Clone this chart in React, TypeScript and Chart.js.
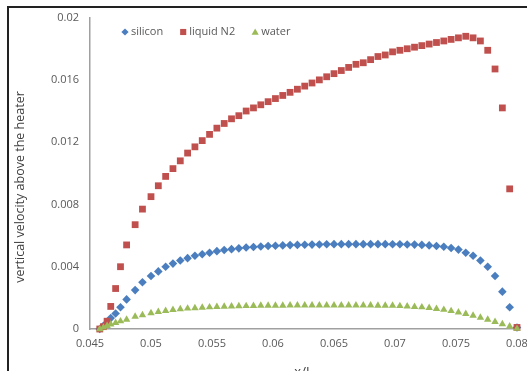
import React, { useEffect, useRef } from 'react';
import { Chart, registerables } from 'chart.js';

Chart.register(...registerables);

// ---- data ----
const xPositions = [
  0.0458, 0.0461, 0.0464, 0.0467, 0.0471, 0.0475, 0.0480, 0.0487, 0.0493,
  0.0500, 0.0506, 0.0512, 0.0518, 0.0524, 0.0530, 0.0536, 0.0542, 0.0548, 0.0554,
  0.0560, 0.0566, 0.0572, 0.0578, 0.0584, 0.0590, 0.0596, 0.0602, 0.0608, 0.0614,
  0.0620, 0.0626, 0.0632, 0.0638, 0.0644, 0.0650, 0.0656, 0.0662, 0.0668, 0.0674,
  0.0680, 0.0686, 0.0692, 0.0698, 0.0704, 0.0710, 0.0716, 0.0722, 0.0728, 0.0734,
  0.0740, 0.0746, 0.0752, 0.0758, 0.0764, 0.0770, 0.0776, 0.0782, 0.0788, 0.0794,
  0.0800,
];

const siliconValues = [
  0, 0.0002, 0.0004, 0.0007, 0.0010, 0.0014, 0.0019, 0.0025, 0.0030,
  0.0034, 0.0037, 0.0040, 0.0042, 0.0044, 0.00455, 0.0047, 0.0048, 0.0049, 0.0050,
  0.00507, 0.00513, 0.00518, 0.00523, 0.00527, 0.0053, 0.00533, 0.00535, 0.00537, 0.00539,
  0.0054, 0.00541, 0.00542, 0.00543, 0.00544, 0.00545, 0.00545, 0.00545, 0.00545, 0.00545,
  0.00545, 0.00545, 0.00545, 0.00544, 0.00544, 0.00543, 0.00542, 0.0054, 0.00537, 0.00533,
  0.00528, 0.0052, 0.0051, 0.0049, 0.0047, 0.0044, 0.0040, 0.0034, 0.0024, 0.0014,
  0.0001,
];

const liquidN2Values = [
  0, 0.00015, 0.0005, 0.00145, 0.0026, 0.0040, 0.0054, 0.0067, 0.0077,
  0.0085, 0.0092, 0.0098, 0.0103, 0.0108, 0.0113, 0.0117, 0.0121, 0.0125, 0.0129,
  0.0132, 0.0135, 0.0137, 0.0140, 0.0142, 0.0144, 0.0146, 0.0148, 0.0150, 0.0152,
  0.0154, 0.0156, 0.0158, 0.0160, 0.0162, 0.0164, 0.0166, 0.0168, 0.0170, 0.0171,
  0.0173, 0.0175, 0.0176, 0.0178, 0.0179, 0.0180, 0.0181, 0.0182, 0.0183, 0.0184,
  0.0185, 0.0186, 0.0187, 0.0188, 0.0187, 0.0185, 0.0179, 0.0167, 0.0142, 0.0090,
  0.0001,
];

const waterValues = [
  0, 0.0001, 0.0002, 0.0003, 0.0004, 0.0005, 0.0006, 0.0008, 0.0009,
  0.00102, 0.0011, 0.00117, 0.00123, 0.00128, 0.00132, 0.00135, 0.00138, 0.0014, 0.00142,
  0.00144, 0.00146, 0.00147, 0.00148, 0.00149, 0.0015, 0.0015, 0.00151, 0.00151, 0.00152,
  0.00152, 0.00152, 0.00152, 0.00152, 0.00152, 0.00152, 0.00152, 0.00152, 0.00152, 0.00152,
  0.00152, 0.00151, 0.00151, 0.0015, 0.00148, 0.00146, 0.00143, 0.0014, 0.00136, 0.0013,
  0.00124, 0.00116, 0.00107, 0.00097, 0.00086, 0.00074, 0.0006, 0.00046, 0.00032, 0.00017,
  0.00002,
];

const seriesNames = ['silicon', 'liquid N2', 'water'];

const xTickValues = [0.045, 0.05, 0.055, 0.06, 0.065, 0.07, 0.075, 0.08];
const xTickLabels = ['0.045', '0.05', '0.055', '0.06', '0.065', '0.07', '0.075', '0.08'];
const yTickValues = [0, 0.004, 0.008, 0.012, 0.016, 0.02];
const yTickLabels = ['0', '0.004', '0.008', '0.012', '0.016', '0.02'];

const xAxisTitle = 'x/L';
const yAxisTitle = 'vertical velocity above the heater';

// ---- styling ----
const FONT = "'Open Sans', 'Liberation Sans', sans-serif";
const BLUE = '#4A7EBF';
const RED = '#C0504D';
const GREEN = '#9BBB59';
const TICK_COLOR = '#595959';
const TITLE_COLOR = '#404040';
const AXIS_COLOR = '#a0a0a0';

const CANVAS_W = 600;
const CANVAS_H = 420;
const AREA = { left: 90, top: 17, right: 517, bottom: 329 };
const X_SCALE_H = 60;

function toPoints(values: number[]) {
  return values.map((v, i) => ({ x: xPositions[i], y: v }));
}

function drawMarker(ctx: CanvasRenderingContext2D, style: string, cx: number, cy: number, r: number) {
  ctx.beginPath();
  if (style === 'rectRot') {
    ctx.moveTo(cx, cy - r);
    ctx.lineTo(cx + r, cy);
    ctx.lineTo(cx, cy + r);
    ctx.lineTo(cx - r, cy);
  } else if (style === 'rect') {
    const s = r * 0.85;
    ctx.rect(cx - s, cy - s, 2 * s, 2 * s);
  } else {
    ctx.moveTo(cx, cy - r);
    ctx.lineTo(cx + r, cy + r * 0.75);
    ctx.lineTo(cx - r, cy + r * 0.75);
  }
  ctx.closePath();
  ctx.fill();
}

const legendPlugin = {
  id: 'insideLegend',
  afterDraw(chart: any) {
    const ctx: CanvasRenderingContext2D = chart.ctx;
    ctx.save();
    ctx.font = `11px ${FONT}`;
    ctx.textAlign = 'left';
    ctx.textBaseline = 'middle';
    let x = 121;
    const y = 32;
    chart.data.datasets.forEach((ds: any) => {
      ctx.fillStyle = ds.backgroundColor;
      drawMarker(ctx, ds.pointStyle, x + 4, y, 3.6);
      ctx.fillStyle = TICK_COLOR;
      ctx.fillText(ds.label, x + 10, y);
      x = x + 10 + ctx.measureText(ds.label).width + 16;
    });
    ctx.restore();
  },
};

const yTitlePlugin = {
  id: 'yTitleCustom',
  afterDraw(chart: any) {
    const ctx: CanvasRenderingContext2D = chart.ctx;
    ctx.save();
    ctx.translate(20, 187);
    ctx.rotate(-Math.PI / 2);
    ctx.font = `12.5px ${FONT}`;
    ctx.fillStyle = TITLE_COLOR;
    ctx.textAlign = 'center';
    ctx.textBaseline = 'middle';
    ctx.fillText(yAxisTitle, 0, 0);
    ctx.restore();
  },
};

export default function App() {
  const canvasRef = useRef<HTMLCanvasElement | null>(null);

  useEffect(() => {
    if (!canvasRef.current) return;
    const chart = new Chart(canvasRef.current, {
      type: 'scatter',
      data: {
        datasets: [
          {
            label: seriesNames[0],
            data: toPoints(siliconValues),
            backgroundColor: BLUE,
            borderColor: BLUE,
            borderWidth: 0,
            pointStyle: 'rectRot',
            pointRadius: 4.3,
            order: 2,
            clip: false,
          },
          {
            label: seriesNames[1],
            data: toPoints(liquidN2Values),
            backgroundColor: RED,
            borderColor: RED,
            borderWidth: 0,
            pointStyle: 'rect',
            pointRadius: 4.8,
            order: 1,
            clip: false,
          },
          {
            label: seriesNames[2],
            data: toPoints(waterValues),
            backgroundColor: GREEN,
            borderColor: GREEN,
            borderWidth: 0,
            pointStyle: 'triangle',
            pointRadius: 4.3,
            order: 0,
            clip: false,
          },
        ] as any,
      },
      options: {
        responsive: false,
        animation: false,
        devicePixelRatio: 1,
        layout: {
          padding: {
            left: 0,
            top: AREA.top,
            right: CANVAS_W - AREA.right,
            bottom: CANVAS_H - AREA.bottom - X_SCALE_H,
          },
        },
        plugins: {
          legend: { display: false },
          tooltip: { enabled: false },
        },
        scales: {
          x: {
            type: 'linear',
            min: 0.045,
            max: 0.08,
            afterBuildTicks: (s: any) => {
              s.ticks = xTickValues.map((v) => ({ value: v }));
            },
            afterFit: (s: any) => {
              s.height = X_SCALE_H;
            },
            ticks: {
              callback: (_v: any, i: number) => xTickLabels[i],
              font: { family: FONT, size: 11 },
              color: TICK_COLOR,
              padding: 8,
              maxRotation: 0,
              autoSkip: false,
            },
            grid: { display: false, drawTicks: false },
            border: { display: true, color: AXIS_COLOR, width: 1.5 },
            title: {
              display: true,
              text: xAxisTitle,
              font: { family: FONT, size: 13 },
              color: TITLE_COLOR,
              padding: { top: 0, bottom: 9 },
            },
          },
          y: {
            type: 'linear',
            min: 0,
            max: 0.02,
            afterBuildTicks: (s: any) => {
              s.ticks = yTickValues.map((v) => ({ value: v }));
            },
            afterFit: (s: any) => {
              s.width = AREA.left;
            },
            ticks: {
              callback: (_v: any, i: number) => yTickLabels[i],
              font: { family: FONT, size: 11 },
              color: TICK_COLOR,
              padding: 11,
              autoSkip: false,
            },
            grid: { display: false, drawTicks: false },
            border: { display: true, color: AXIS_COLOR, width: 1.5 },
          },
        },
      } as any,
      plugins: [legendPlugin, yTitlePlugin],
    });
    return () => chart.destroy();
  }, []);

  return (
    <div
      style={{
        position: 'fixed',
        left: 0,
        top: 0,
        width: 527,
        height: 371,
        overflow: 'hidden',
        background: '#ffffff',
      }}
    >
      <canvas
        ref={canvasRef}
        width={CANVAS_W}
        height={CANVAS_H}
        style={{ position: 'absolute', left: 0, top: 0 }}
      />
      <div
        style={{
          position: 'absolute',
          left: 7,
          top: 6,
          width: 700,
          height: 500,
          border: '2px solid #222',
          pointerEvents: 'none',
        }}
      />
    </div>
  );
}
